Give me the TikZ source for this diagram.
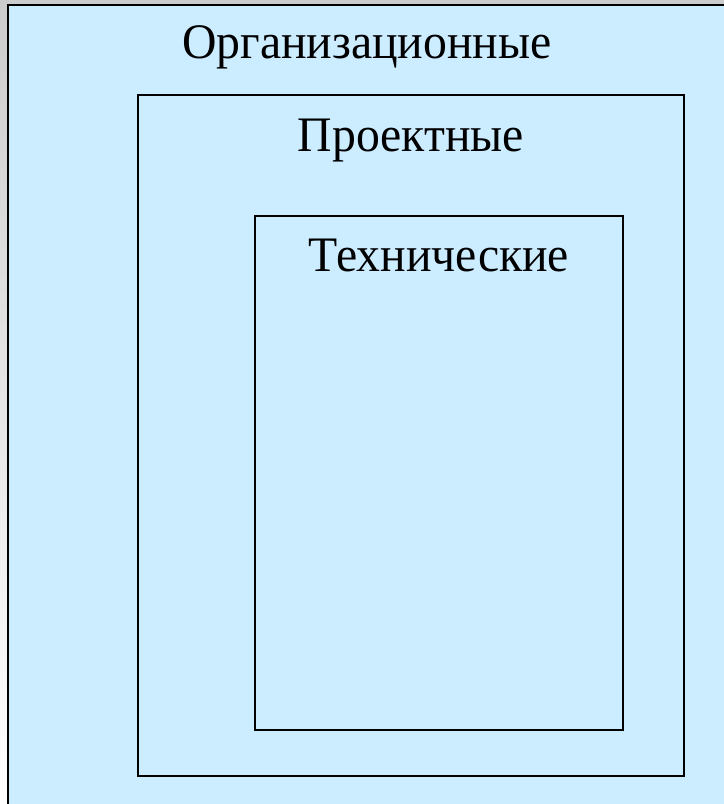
\documentclass[tikz,border=0pt]{standalone}
\usepackage{fontspec}
\setmainfont{Liberation Serif}
\definecolor{boxfill}{HTML}{CCECFF}
\tikzset{
  frame/.style={draw=black, line width=1.1pt},
  lbl/.style={font=\fontsize{35.8}{40}\selectfont, inner sep=0pt, anchor=base, yscale=1.04}
}
\begin{document}
\begin{tikzpicture}[x=0.75pt,y=-0.75pt]
\shade[top color=gray!40, bottom color=white] (0,0) rectangle (724,804);
\useasboundingbox (0,0) rectangle (724,804);
\fill[boxfill] (8,5) rectangle (730,810);
\draw[black, line width=1.6pt] (8,810) -- (8,5) -- (730,5);
\draw[frame] (138,95) rectangle (684,776);
\draw[frame] (255,216) rectangle (623,730);
\node[lbl] (org) at (367,58.5) {Организационные};
\node[lbl] (proj) at (411,151) {Проектные};
\node[lbl] (tech) at (439,271) {Технические};
\end{tikzpicture}
\end{document}
